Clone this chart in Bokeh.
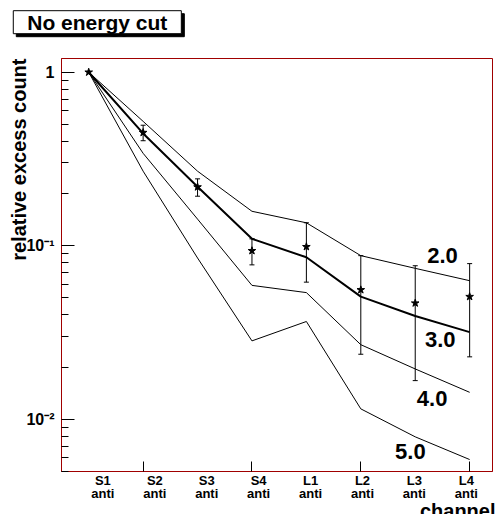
import math
from bokeh.plotting import figure
from bokeh.models import Range1d, FixedTicker, Label, Whisker, ColumnDataSource, TeeHead, Title
from bokeh.core.properties import value
from bokeh.embed import file_html
from bokeh.resources import INLINE

# ---- data ----
channels = ["S1", "S2", "S3", "S4", "L1", "L2", "L3", "L4"]
channel_x = [1, 2, 3, 4, 5, 6, 7, 8]
data_val = [1.0, 0.449, 0.218, 0.0936, 0.0987, 0.0557, 0.0467, 0.0509]
data_err = [0.0, 0.046, 0.025, 0.016, 0.037, 0.032, 0.030, 0.028]
curve_2_0 = [1.0, 0.521, 0.269, 0.158, 0.1356, 0.0877, 0.0741, 0.0629]
curve_3_0 = [1.0, 0.444, 0.219, 0.1097, 0.0858, 0.0509, 0.0394, 0.0318]
curve_4_0 = [1.0, 0.341, 0.1424, 0.0591, 0.0537, 0.0269, 0.0195, 0.0143]
curve_5_0 = [1.0, 0.269, 0.0850, 0.0283, 0.0366, 0.01148, 0.00792, 0.00586]
curve_names = ["2.0", "3.0", "4.0", "5.0"]
curve_label_x = [7.50, 7.46, 7.31, 6.91]
curve_label_y = [0.0884, 0.0287, 0.01315, 0.00652]
y_tick_values = [0.01, 0.1, 1.0]
y_tick_labels = ["10\u207b\u00b2", "10\u207b\u00b9", "1"]

FONT = "Liberation Sans"
FRAME_RED = "#a00000"

p = figure(width=498, height=514, x_range=Range1d(0.5, 8.42), y_range=Range1d(0.005, 1.2),
           y_axis_type="log", output_backend="svg", toolbar_location=None, title=None,
           min_border_left=61, min_border_right=6, min_border_top=58, min_border_bottom=42)
p.xgrid.visible = False
p.ygrid.visible = False
p.outline_line_color = FRAME_RED
p.outline_line_width = 1
p.background_fill_color = "white"
p.border_fill_color = "white"

# x axis: labels offset from tick marks (ROOT style)
label_pos = [1.261 + 0.954 * i for i in range(len(channels))]
p.xaxis.ticker = FixedTicker(ticks=label_pos, minor_ticks=[2, 4, 6, 8])
p.xaxis.major_label_overrides = {pos: f"{c}\nanti" for pos, c in zip(label_pos, channels)}
p.xaxis.major_tick_in = 0
p.xaxis.major_tick_out = 0
p.xaxis.minor_tick_in = 10
p.xaxis.minor_tick_out = 0
p.xaxis.minor_tick_line_color = "black"
p.xaxis.axis_line_color = FRAME_RED
p.xaxis.major_label_text_font = FONT
p.xaxis.major_label_text_font_style = "bold"
p.xaxis.major_label_text_font_size = "13px"
p.xaxis.major_label_text_line_height = 0.9
p.xaxis.major_label_text_color = "black"
p.xaxis.major_label_standoff = 1

# y axis
minor = [m * 10.0 ** e for e in (-3, -2, -1) for m in range(2, 10) if 0.005 <= m * 10.0 ** e <= 1.2]
p.yaxis.ticker = FixedTicker(ticks=y_tick_values, minor_ticks=minor)
p.yaxis.major_label_overrides = {v: t for v, t in zip(y_tick_values, y_tick_labels)}
p.yaxis.major_tick_in = 13
p.yaxis.major_tick_out = 0
p.yaxis.minor_tick_in = 7
p.yaxis.minor_tick_out = 0
p.yaxis.major_tick_line_color = "black"
p.yaxis.minor_tick_line_color = "black"
p.yaxis.axis_line_color = FRAME_RED
p.yaxis.major_label_text_font = FONT
p.yaxis.major_label_text_font_style = "bold"
p.yaxis.major_label_text_font_size = "16px"
p.yaxis.major_label_text_color = "black"
p.yaxis.major_label_standoff = 7

# curves
for curve, w in zip([curve_2_0, curve_3_0, curve_4_0, curve_5_0], [1, 2, 1, 1]):
    p.line(channel_x, curve, line_color="black", line_width=w)

p.text(x=curve_label_x, y=curve_label_y, text=curve_names, text_font=value(FONT),
       text_font_style="bold", text_font_size="22px", text_align="center",
       text_baseline="middle", text_color="black")

# data with error bars
idx = [i for i, e in enumerate(data_err) if e > 0]
src = ColumnDataSource(data=dict(
    x=[channel_x[i] for i in idx],
    lower=[data_val[i] - data_err[i] for i in idx],
    upper=[data_val[i] + data_err[i] for i in idx]))
wh = Whisker(base="x", lower="lower", upper="upper", source=src, dimension="height",
             line_color="black", line_width=1,
             upper_head=TeeHead(size=5, line_color="black", line_width=1),
             lower_head=TeeHead(size=5, line_color="black", line_width=1))
p.add_layout(wh)
p.scatter(channel_x, data_val, marker="star", size=8, color="black")

# x axis title, right aligned at the bottom
xtitle = Title(text="channel", align="right", vertical_align="bottom", offset=-3, standoff=-14,
               text_font=FONT, text_font_style="bold", text_font_size="20px", text_color="black")
p.add_layout(xtitle, "below")

# title box with shadow (placed in side panels so they are not clipped to the frame)
shadow = Label(x=99.8, y=24.7, x_units="canvas", y_units="canvas", text="No energy cut",
               text_font=FONT, text_font_style="bold", text_font_size="21px",
               text_align="center", text_baseline="middle", text_color="black",
               background_fill_color="black", border_line_color="black",
               padding=dict(left=14, right=14, top=0, bottom=0))
title = Label(x=96.8, y=21.7, x_units="canvas", y_units="canvas", text="No energy cut",
              text_font=FONT, text_font_style="bold", text_font_size="21px",
              text_align="center", text_baseline="middle", text_color="black",
              background_fill_color="white", border_line_color="black", border_line_width=1,
              padding=dict(left=14, right=14, top=0, bottom=0))
p.add_layout(shadow, "above")
p.add_layout(title, "above")

ytitle = Label(x=18.3, y=58, x_units="canvas", y_units="canvas", text="relative excess count",
               angle=math.pi / 2, text_font=FONT, text_font_style="bold", text_font_size="20px",
               text_align="right", text_baseline="alphabetic", text_color="black")
p.add_layout(ytitle, "left")

open("out.html", "w").write(file_html(p, INLINE))
